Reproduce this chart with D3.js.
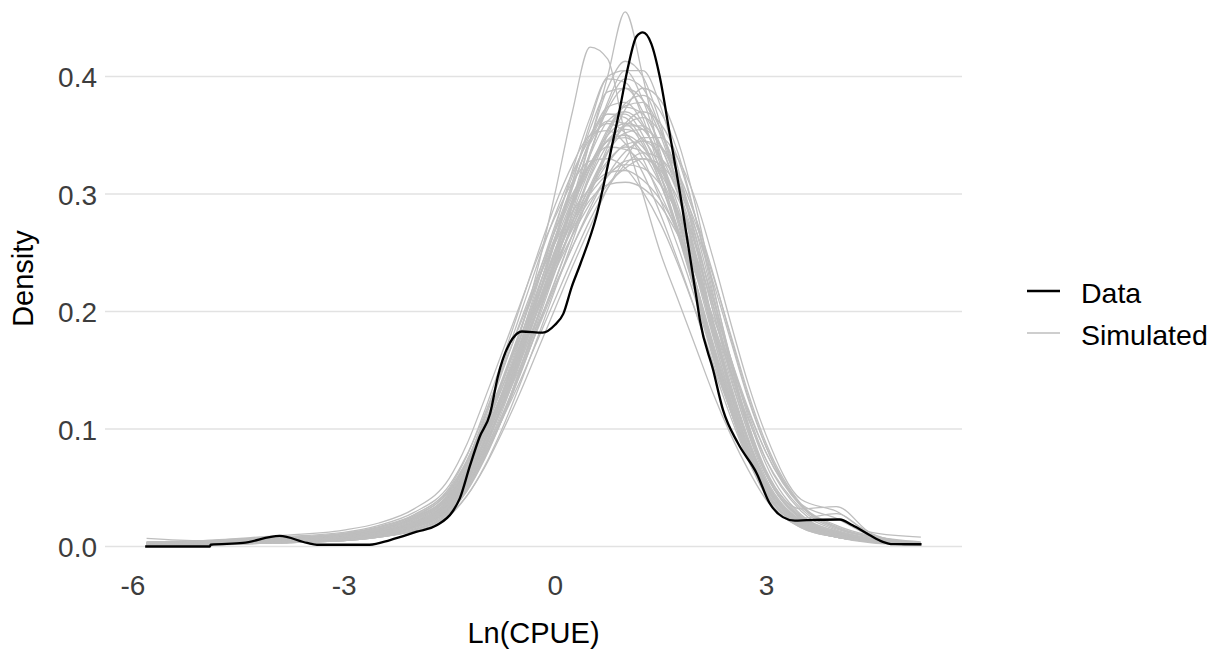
<!DOCTYPE html>
<html>
<head>
<meta charset="utf-8">
<script src="https://cdn.jsdelivr.net/npm/d3@7"></script>
<style>
  html, body { margin: 0; padding: 0; background: #ffffff; }
  svg { display: block; font-family: "Liberation Sans", Arial, sans-serif; }
</style>
</head>
<body>
<svg id="chart" width="1218" height="650"></svg>
<script>
// ---------- DATA ----------
const xTicks = [-6, -3, 0, 3];
const yTicks = [0.0, 0.1, 0.2, 0.3, 0.4];
const yTickLabels = ["0.0", "0.1", "0.2", "0.3", "0.4"];
const legendLabels = ["Data", "Simulated"];

// Observed density ("Data")
const dataX = [-5.82, -4.9, -4.89, -4.43, -3.91, -3.52, -3.38, -2.63, -2.34, -1.96, -1.68, -1.45, -1.35, -1.21, -1.07, -0.92, -0.81, -0.74, -0.6, -0.47, -0.17, 0.0, 0.12, 0.24, 0.36, 0.59, 0.78, 0.92, 1.04, 1.16, 1.25, 1.37, 1.49, 1.63, 1.78, 1.89, 2.01, 2.06, 2.25, 2.39, 2.6, 2.87, 3.05, 3.24, 3.41, 3.58, 4.05, 4.23, 4.47, 4.66, 4.8, 5.21];
const dataY = [0.0, 0.0, 0.0015, 0.003, 0.009, 0.003, 0.0015, 0.0015, 0.0055, 0.0126, 0.018, 0.03, 0.041, 0.068, 0.093, 0.113, 0.1445, 0.159, 0.177, 0.183, 0.182, 0.1885, 0.198, 0.221, 0.24, 0.281, 0.332, 0.3715, 0.408, 0.434, 0.4375, 0.428, 0.40, 0.352, 0.30, 0.258, 0.2125, 0.193, 0.15, 0.116, 0.088, 0.062, 0.037, 0.025, 0.022, 0.0225, 0.023, 0.018, 0.0098, 0.004, 0.002, 0.0019];

// Simulated densities, all on a shared grid
const simX = [-5.8, -5, -4, -3, -2.5, -2, -1.5, -1.25, -1, -0.75, -0.5, -0.25, 0, 0.25, 0.5, 0.75, 1, 1.25, 1.5, 1.75, 2, 2.25, 2.5, 2.75, 3, 3.5, 4, 4.5, 5.2];
const sim01 = [0.002,0.003,0.005,0.008,0.012,0.02,0.04,0.062,0.095,0.13,0.17,0.21,0.25,0.29,0.325,0.35,0.36,0.355,0.33,0.29,0.24,0.185,0.135,0.09,0.055,0.022,0.012,0.006,0.002];
const sim02 = [0.001,0.002,0.004,0.006,0.01,0.017,0.032,0.05,0.078,0.11,0.15,0.195,0.24,0.29,0.345,0.40,0.455,0.40,0.33,0.275,0.22,0.165,0.115,0.075,0.045,0.018,0.008,0.004,0.001];
const sim03 = [0.002,0.003,0.006,0.01,0.015,0.025,0.045,0.07,0.105,0.14,0.18,0.235,0.30,0.37,0.425,0.415,0.35,0.30,0.25,0.21,0.17,0.13,0.095,0.065,0.04,0.016,0.008,0.004,0.001];
const sim04 = [0.002,0.003,0.005,0.008,0.012,0.02,0.038,0.058,0.088,0.125,0.165,0.21,0.26,0.31,0.36,0.40,0.405,0.38,0.335,0.28,0.225,0.17,0.12,0.078,0.046,0.018,0.009,0.004,0.001];
const sim05 = [0.003,0.004,0.007,0.011,0.016,0.026,0.047,0.07,0.1,0.135,0.17,0.205,0.24,0.27,0.295,0.308,0.31,0.305,0.29,0.265,0.235,0.195,0.155,0.115,0.08,0.035,0.016,0.008,0.003];
const sim06 = [0.001,0.002,0.004,0.007,0.01,0.017,0.033,0.052,0.08,0.115,0.155,0.195,0.235,0.275,0.315,0.35,0.375,0.378,0.355,0.315,0.265,0.205,0.15,0.1,0.062,0.024,0.012,0.006,0.002];
const sim07 = [0.003,0.004,0.007,0.01,0.015,0.025,0.048,0.073,0.108,0.148,0.19,0.23,0.268,0.3,0.325,0.34,0.338,0.325,0.3,0.265,0.22,0.17,0.123,0.082,0.05,0.02,0.01,0.005,0.002];
const sim08 = [0.001,0.002,0.003,0.006,0.009,0.015,0.03,0.048,0.075,0.108,0.145,0.185,0.225,0.265,0.3,0.335,0.36,0.37,0.36,0.33,0.28,0.22,0.16,0.11,0.07,0.027,0.013,0.006,0.002];
const sim09 = [0.002,0.003,0.005,0.008,0.013,0.022,0.042,0.065,0.098,0.135,0.176,0.218,0.258,0.295,0.325,0.345,0.35,0.34,0.315,0.28,0.235,0.182,0.132,0.088,0.054,0.021,0.011,0.005,0.002];
const sim10 = [0.001,0.002,0.004,0.007,0.011,0.019,0.036,0.056,0.086,0.122,0.162,0.205,0.248,0.292,0.335,0.372,0.39,0.38,0.35,0.305,0.25,0.19,0.135,0.088,0.052,0.019,0.009,0.004,0.001];
const sim11 = [0.002,0.003,0.005,0.008,0.012,0.02,0.037,0.057,0.085,0.118,0.152,0.188,0.222,0.255,0.285,0.308,0.322,0.33,0.325,0.305,0.27,0.225,0.175,0.125,0.085,0.035,0.017,0.008,0.003];
const sim12 = [0.003,0.004,0.006,0.01,0.014,0.024,0.046,0.072,0.11,0.152,0.196,0.24,0.282,0.318,0.347,0.36,0.352,0.33,0.295,0.255,0.21,0.16,0.115,0.076,0.046,0.018,0.009,0.004,0.001];
const sim13 = [0.001,0.002,0.003,0.006,0.01,0.017,0.034,0.054,0.084,0.12,0.16,0.202,0.245,0.29,0.335,0.375,0.398,0.39,0.355,0.305,0.245,0.185,0.13,0.085,0.052,0.024,0.028,0.01,0.003];
const sim14 = [0.002,0.003,0.005,0.009,0.013,0.021,0.039,0.06,0.09,0.125,0.163,0.2,0.238,0.272,0.302,0.326,0.342,0.345,0.332,0.3,0.255,0.2,0.148,0.1,0.064,0.026,0.013,0.006,0.002];
const sim15 = [0.001,0.002,0.003,0.006,0.009,0.016,0.032,0.052,0.082,0.12,0.163,0.21,0.258,0.305,0.345,0.368,0.368,0.35,0.315,0.27,0.218,0.165,0.115,0.074,0.043,0.016,0.008,0.004,0.001];
const sim16 = [0.004,0.005,0.008,0.012,0.018,0.029,0.052,0.078,0.112,0.15,0.188,0.225,0.258,0.285,0.305,0.318,0.32,0.312,0.295,0.268,0.232,0.19,0.148,0.108,0.074,0.032,0.015,0.008,0.003];
const sim17 = [0.001,0.002,0.003,0.005,0.008,0.014,0.029,0.047,0.074,0.108,0.147,0.19,0.233,0.276,0.318,0.353,0.377,0.384,0.37,0.335,0.28,0.215,0.155,0.102,0.062,0.023,0.011,0.005,0.001];
const sim18 = [0.003,0.004,0.007,0.011,0.016,0.027,0.05,0.077,0.115,0.158,0.203,0.248,0.29,0.325,0.35,0.354,0.343,0.318,0.283,0.243,0.2,0.153,0.11,0.073,0.045,0.018,0.009,0.005,0.002];
const sim19 = [0.002,0.003,0.004,0.007,0.011,0.018,0.035,0.055,0.085,0.12,0.158,0.2,0.242,0.283,0.322,0.355,0.374,0.368,0.342,0.3,0.248,0.19,0.138,0.092,0.056,0.021,0.01,0.005,0.002];
const sim20 = [0.002,0.003,0.004,0.007,0.011,0.018,0.034,0.052,0.078,0.108,0.14,0.175,0.21,0.245,0.278,0.305,0.325,0.335,0.33,0.31,0.275,0.23,0.18,0.13,0.088,0.036,0.018,0.009,0.004];
const sim21 = [0.007,0.005,0.006,0.009,0.014,0.023,0.043,0.066,0.1,0.14,0.182,0.225,0.268,0.308,0.343,0.362,0.36,0.342,0.31,0.268,0.22,0.168,0.12,0.08,0.048,0.019,0.009,0.004,0.001];
const sim22 = [0.002,0.002,0.004,0.007,0.011,0.019,0.037,0.058,0.09,0.128,0.17,0.215,0.262,0.31,0.355,0.387,0.39,0.37,0.33,0.28,0.225,0.17,0.12,0.078,0.046,0.017,0.008,0.004,0.001];
const sim23 = [0.001,0.002,0.003,0.005,0.008,0.014,0.027,0.043,0.067,0.097,0.13,0.166,0.202,0.238,0.272,0.305,0.33,0.348,0.348,0.33,0.295,0.245,0.19,0.138,0.095,0.04,0.03,0.012,0.008];
const sim24 = [0.004,0.005,0.009,0.014,0.02,0.032,0.058,0.087,0.125,0.165,0.205,0.245,0.28,0.31,0.328,0.33,0.322,0.302,0.275,0.24,0.2,0.156,0.115,0.078,0.05,0.021,0.011,0.005,0.002];
const sim25 = [0.001,0.002,0.003,0.005,0.009,0.016,0.032,0.052,0.082,0.118,0.158,0.2,0.245,0.295,0.345,0.39,0.413,0.4,0.36,0.305,0.243,0.18,0.125,0.08,0.047,0.017,0.008,0.004,0.001];
const sim26 = [0.002,0.003,0.005,0.008,0.012,0.02,0.038,0.059,0.089,0.124,0.162,0.202,0.242,0.28,0.314,0.342,0.358,0.358,0.34,0.305,0.258,0.2,0.145,0.096,0.058,0.022,0.011,0.005,0.002];
const sim27 = [0.002,0.003,0.005,0.009,0.014,0.023,0.042,0.064,0.095,0.13,0.168,0.206,0.243,0.277,0.306,0.328,0.34,0.336,0.318,0.286,0.243,0.192,0.142,0.097,0.061,0.025,0.012,0.006,0.002];
const sim28 = [0.001,0.001,0.003,0.005,0.008,0.013,0.026,0.043,0.068,0.1,0.137,0.177,0.218,0.26,0.302,0.34,0.372,0.39,0.38,0.345,0.29,0.222,0.158,0.104,0.063,0.024,0.011,0.005,0.001];
const sim29 = [0.002,0.003,0.005,0.008,0.012,0.021,0.04,0.062,0.094,0.131,0.171,0.212,0.252,0.29,0.322,0.346,0.355,0.347,0.322,0.285,0.238,0.185,0.134,0.089,0.054,0.02,0.01,0.005,0.002];
const sim30 = [0.002,0.003,0.005,0.008,0.012,0.021,0.041,0.064,0.098,0.138,0.182,0.228,0.273,0.315,0.35,0.368,0.365,0.345,0.31,0.265,0.215,0.163,0.116,0.076,0.046,0.018,0.009,0.004,0.001];
const sim31 = [0.002,0.003,0.004,0.007,0.011,0.019,0.037,0.058,0.09,0.13,0.175,0.222,0.27,0.32,0.365,0.398,0.395,0.365,0.318,0.268,0.215,0.162,0.115,0.075,0.045,0.017,0.008,0.004,0.001];
const sim32 = [0.003,0.004,0.006,0.01,0.015,0.024,0.044,0.066,0.097,0.13,0.165,0.2,0.234,0.265,0.292,0.315,0.328,0.33,0.32,0.296,0.258,0.21,0.16,0.113,0.074,0.03,0.014,0.007,0.002];
const sim33 = [0.001,0.002,0.004,0.006,0.01,0.016,0.031,0.049,0.076,0.109,0.146,0.186,0.226,0.266,0.304,0.336,0.358,0.365,0.352,0.318,0.27,0.212,0.155,0.104,0.065,0.032,0.034,0.011,0.002];
const sim34 = [0.003,0.004,0.006,0.009,0.014,0.023,0.044,0.068,0.103,0.142,0.183,0.224,0.263,0.298,0.326,0.345,0.348,0.335,0.308,0.27,0.225,0.173,0.125,0.083,0.05,0.02,0.01,0.005,0.002];
const sim35 = [0.002,0.003,0.005,0.008,0.012,0.02,0.039,0.06,0.092,0.13,0.172,0.216,0.262,0.306,0.346,0.374,0.378,0.36,0.325,0.278,0.224,0.168,0.118,0.077,0.046,0.018,0.009,0.004,0.001];
const sim36 = [0.002,0.003,0.004,0.007,0.011,0.018,0.034,0.053,0.08,0.112,0.147,0.184,0.22,0.255,0.288,0.316,0.336,0.345,0.34,0.318,0.28,0.232,0.178,0.127,0.085,0.036,0.024,0.009,0.002];
const sim37 = [0.002,0.003,0.005,0.008,0.012,0.02,0.038,0.059,0.09,0.127,0.167,0.209,0.252,0.294,0.333,0.362,0.37,0.358,0.328,0.285,0.233,0.178,0.128,0.085,0.051,0.019,0.009,0.004,0.001];
const sim38 = [0.003,0.004,0.007,0.011,0.017,0.027,0.049,0.073,0.105,0.14,0.177,0.213,0.247,0.277,0.3,0.317,0.325,0.322,0.308,0.283,0.248,0.205,0.16,0.117,0.08,0.034,0.016,0.008,0.003];
const sim39 = [0.001,0.002,0.003,0.005,0.008,0.014,0.029,0.048,0.076,0.11,0.15,0.193,0.238,0.285,0.333,0.378,0.405,0.405,0.375,0.322,0.258,0.19,0.13,0.083,0.048,0.017,0.008,0.003,0.001];
const sim40 = [0.002,0.003,0.005,0.008,0.012,0.019,0.036,0.056,0.085,0.119,0.156,0.195,0.234,0.272,0.307,0.336,0.352,0.355,0.342,0.31,0.263,0.206,0.151,0.101,0.062,0.024,0.012,0.006,0.002];
const simSeries = [sim01, sim02, sim03, sim04, sim05, sim06, sim07, sim08, sim09, sim10,
                   sim11, sim12, sim13, sim14, sim15, sim16, sim17, sim18, sim19, sim20,
                   sim21, sim22, sim23, sim24, sim25, sim26, sim27, sim28, sim29, sim30,
                   sim31, sim32, sim33, sim34, sim35, sim36, sim37, sim38, sim39, sim40];

// ---------- CHART ----------
const svg = d3.select("#chart");
const panel = { left: 105, right: 962 };
const FONT = "Liberation Sans, Arial, sans-serif";

const x = d3.scaleLinear().domain([-6, 3]).range([132.5, 766]);
const y = d3.scaleLinear().domain([0, 0.4]).range([546.5, 76.5]);

// horizontal gridlines
svg.append("g").selectAll("line").data(yTicks).join("line")
  .attr("x1", panel.left).attr("x2", panel.right)
  .attr("y1", d => y(d)).attr("y2", d => y(d))
  .attr("stroke", "#e2e2e2").attr("stroke-width", 1.6);

// y axis (labels only)
const yAxis = d3.axisLeft(y).tickValues(yTicks).tickSize(0).tickPadding(0)
  .tickFormat((d, i) => yTickLabels[i]);
const gy = svg.append("g").attr("transform", "translate(97,0)").call(yAxis);
gy.select(".domain").remove();
gy.selectAll("text").attr("font-size", 28).attr("fill", "#3d3d3d")
  .attr("font-family", FONT).attr("dy", "0.36em");

// x axis (labels only)
const xAxis = d3.axisBottom(x).tickValues(xTicks).tickSize(0).tickPadding(0)
  .tickFormat(d => (d < 0 ? "-" + Math.abs(d) : String(d)));
const gx = svg.append("g").attr("transform", "translate(0,595)").call(xAxis);
gx.select(".domain").remove();
gx.selectAll("text").attr("font-size", 28).attr("fill", "#3d3d3d")
  .attr("font-family", FONT).attr("y", 0).attr("dy", 0);

// lines
const line = d3.line().curve(d3.curveMonotoneX);

svg.append("g").selectAll("path").data(simSeries).join("path")
  .attr("d", s => line(simX.map((xv, i) => [x(xv), y(s[i])])))
  .attr("fill", "none").attr("stroke", "#bebebe").attr("stroke-width", 1.3);

svg.append("path")
  .attr("d", line(dataX.map((xv, i) => [x(xv), y(dataY[i])])))
  .attr("fill", "none").attr("stroke", "#000000").attr("stroke-width", 2.3)
  .attr("stroke-linejoin", "round");

// axis titles (centred on the panel)
const panelMidX = (panel.left + panel.right) / 2;
svg.append("text").attr("x", panelMidX).attr("y", 643).attr("text-anchor", "middle")
  .attr("font-size", 29).attr("font-family", FONT).attr("fill", "#000").text("Ln(CPUE)");
svg.append("text").attr("transform", "translate(33,278.5) rotate(-90)")
  .attr("text-anchor", "middle").attr("font-size", 29).attr("font-family", FONT)
  .attr("fill", "#000").text("Density");

// legend
const legendColors = ["#000000", "#bebebe"];
const legendWidths = [2.3, 1.6];
const lg = svg.append("g");
legendLabels.forEach((lab, i) => {
  const cy = 291 + i * 42;
  lg.append("line").attr("x1", 1027).attr("x2", 1060).attr("y1", cy).attr("y2", cy)
    .attr("stroke", legendColors[i]).attr("stroke-width", legendWidths[i]);
  lg.append("text").attr("x", 1081).attr("y", cy + 12).attr("font-size", 28.5)
    .attr("font-family", FONT).attr("fill", "#000").text(lab);
});
</script>
</body>
</html>
